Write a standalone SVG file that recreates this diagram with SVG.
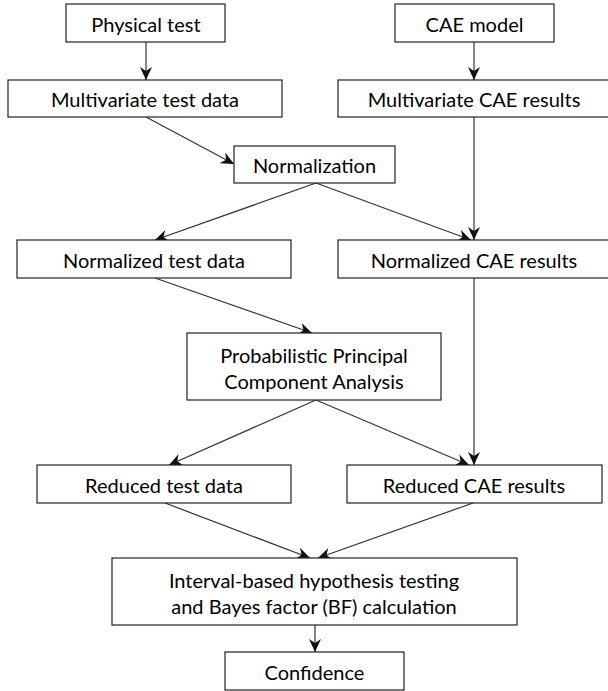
<svg xmlns="http://www.w3.org/2000/svg" width="608" height="691" viewBox="0 0 608 691">
<style>
.box{fill:#fff;stroke:#222;stroke-width:1.2}
.t{font-family:Lato,"Open Sans","Liberation Sans",sans-serif;font-size:20px;fill:#000;text-anchor:middle}
.c{stroke:#333;stroke-width:1.2;fill:none;marker-end:url(#ah)}
</style>
<defs>
<marker id="ah" markerUnits="userSpaceOnUse" markerWidth="14" markerHeight="12" refX="13" refY="6" orient="auto" viewBox="0 0 14 12">
<path d="M0,0 L13,6 L0,12 L4,6 z" fill="#111"/>
</marker>
</defs>
<rect width="608" height="691" fill="#fff"/>
<g id="connectors">
<line class="c" x1="146" y1="42" x2="146" y2="80"/>
<line class="c" x1="474" y1="42" x2="474" y2="80"/>
<line class="c" x1="146" y1="117" x2="234" y2="164"/>
<line class="c" x1="316" y1="183" x2="155" y2="240"/>
<line class="c" x1="316" y1="183" x2="471" y2="240"/>
<line class="c" x1="474" y1="117" x2="474" y2="240"/>
<line class="c" x1="155" y1="278" x2="312" y2="333"/>
<line class="c" x1="474" y1="278" x2="474" y2="465"/>
<line class="c" x1="316" y1="400" x2="169" y2="465"/>
<line class="c" x1="316" y1="400" x2="469" y2="465"/>
<line class="c" x1="165" y1="503" x2="310" y2="558"/>
<line class="c" x1="473" y1="503" x2="318" y2="558"/>
<line class="c" x1="315" y1="625" x2="315" y2="652"/>
</g>
<g id="physical-test"><rect class="box" x="66" y="4" width="159" height="38"/><text class="t" x="146" y="32">Physical test</text></g>
<g id="cae-model"><rect class="box" x="395" y="4" width="159" height="38"/><text class="t" x="474.5" y="32">CAE model</text></g>
<g id="multivariate-test-data"><rect class="box" x="8" y="80" width="274" height="37"/><text class="t" x="145" y="107">Multivariate test data</text></g>
<g id="multivariate-cae-results"><rect class="box" x="338" y="80" width="272" height="37"/><text class="t" x="474" y="107">Multivariate CAE results</text></g>
<g id="normalization"><rect class="box" x="234" y="146" width="161" height="37"/><text class="t" x="314.5" y="173">Normalization</text></g>
<g id="normalized-test-data"><rect class="box" x="17" y="240" width="274" height="38"/><text class="t" x="154" y="267.5">Normalized test data</text></g>
<g id="normalized-cae-results"><rect class="box" x="338" y="240" width="272" height="38"/><text class="t" x="474" y="267.5">Normalized CAE results</text></g>
<g id="ppca"><rect class="box" x="187" y="333" width="254" height="67"/><text class="t" x="314" y="363">Probabilistic Principal</text><text class="t" x="314" y="389">Component Analysis</text></g>
<g id="reduced-test-data"><rect class="box" x="37" y="465" width="254" height="38"/><text class="t" x="164" y="492.5">Reduced test data</text></g>
<g id="reduced-cae-results"><rect class="box" x="347" y="465" width="255" height="38"/><text class="t" x="474" y="492.5">Reduced CAE results</text></g>
<g id="interval-bf"><rect class="box" x="112" y="558" width="405" height="67"/><text class="t" x="314" y="588">Interval-based hypothesis testing</text><text class="t" x="314" y="614">and Bayes factor (BF) calculation</text></g>
<g id="confidence"><rect class="box" x="225" y="652" width="179" height="38"/><text class="t" x="314.5" y="679.5">Confidence</text></g>
</svg>
